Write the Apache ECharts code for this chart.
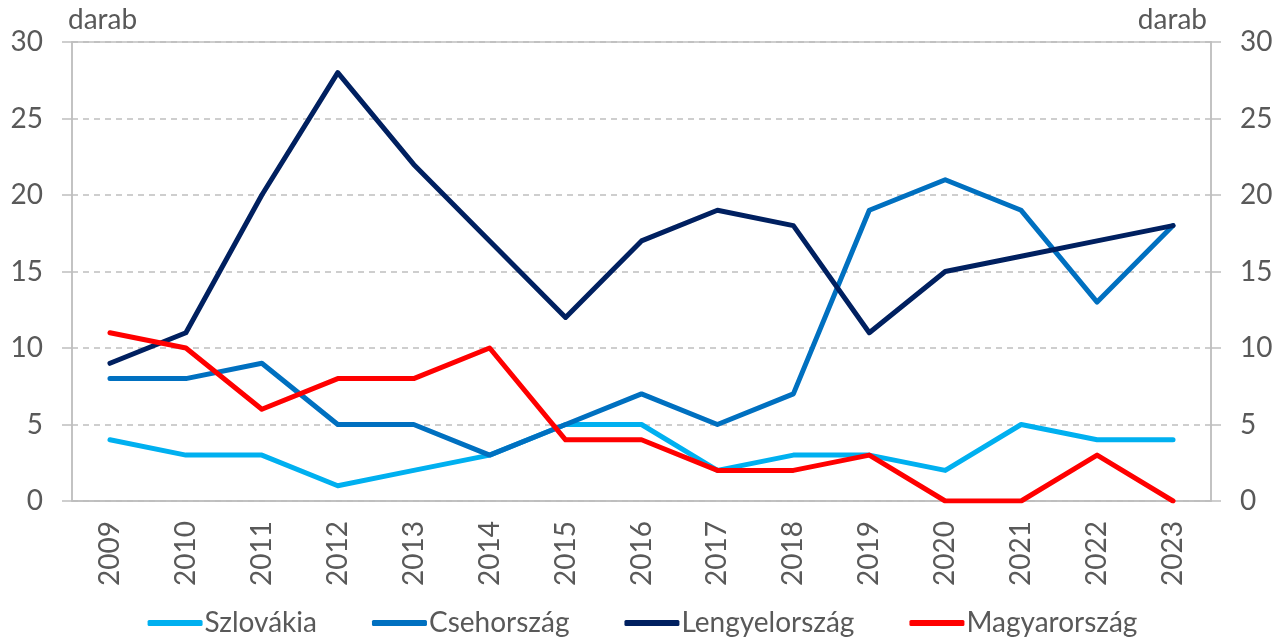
<!DOCTYPE html>
<html>
<head>
<meta charset="utf-8">
<script src="https://cdn.jsdelivr.net/npm/echarts@6/dist/echarts.min.js"></script>
<style>
  html, body { margin: 0; padding: 0; background: #fff; }
  #chart { width: 1285px; height: 639px; }
</style>
</head>
<body>
<div id="chart"></div>
<script>
// years on the category axis
const years = ['2009', '2010', '2011', '2012', '2013', '2014', '2015', '2016',
  '2017', '2018', '2019', '2020', '2021', '2022', '2023'];

// values per country (darab)
const szlovakia = [4, 3, 3, 1, 2, 3, 5, 5, 2, 3, 3, 2, 5, 4, 4];
const csehorszag = [8, 8, 9, 5, 5, 3, 5, 7, 5, 7, 19, 21, 19, 13, 18];
const lengyelorszag = [9, 11, 20, 28, 22, 17, 12, 17, 19, 18, 11, 15, 16, 17, 18];
const magyarorszag = [11, 10, 6, 8, 8, 10, 4, 4, 2, 2, 3, 0, 0, 3, 0];

const seriesNames = ['Szlovákia', 'Csehország', 'Lengyelország', 'Magyarország'];
const seriesColors = ['#00B0F0', '#0070C0', '#002060', '#FF0000'];
const seriesData = [szlovakia, csehorszag, lengyelorszag, magyarorszag];

const textColor = '#595959';
const axisGray = '#BFBFBF';
const font = 'Lato, "Noto Sans", sans-serif';
const fs = 28;

const chart = echarts.init(document.getElementById('chart'), null, { renderer: 'canvas' });

function yAxisCfg(pos) {
  return {
    type: 'value',
    position: pos,
    min: 0,
    max: 30,
    interval: 5,
    axisLine: { show: true, lineStyle: { color: axisGray, width: 1.5 } },
    axisTick: { show: true, length: 10, lineStyle: { color: axisGray, width: 1.5 } },
    axisLabel: { margin: 29, color: textColor, fontSize: fs, fontFamily: font },
    splitLine: pos === 'left'
      ? { show: true, lineStyle: { color: axisGray, type: [6, 5], width: 1.5 } }
      : { show: false }
  };
}

const option = {
  animation: false,
  grid: {
    left: 72, right: 74, top: 42, height: 459,
    show: true, borderColor: axisGray, borderWidth: 1.5
  },
  legend: {
    bottom: -3,
    left: 'center',
    itemWidth: 55,
    itemHeight: 6,
    itemGap: 55,
    icon: 'roundRect',
    textStyle: { color: textColor, fontSize: fs, fontFamily: font, padding: [0, 0, 0, -3] },
    data: seriesNames
  },
  xAxis: {
    type: 'category',
    data: years,
    boundaryGap: true,
    axisLine: { show: true, lineStyle: { color: axisGray, width: 1.5 } },
    axisTick: { show: false },
    axisLabel: { rotate: 90, margin: 20, color: textColor, fontSize: fs, fontFamily: font }
  },
  yAxis: [yAxisCfg('left'), yAxisCfg('right')],
  graphic: [
    { type: 'text', left: 68, top: 6,
      style: { text: 'darab', fill: textColor, fontSize: fs, fontFamily: font } },
    { type: 'text', right: 78, top: 6,
      style: { text: 'darab', fill: textColor, fontSize: fs, fontFamily: font } }
  ],
  series: seriesNames.map((name, i) => ({
    name: name,
    type: 'line',
    yAxisIndex: 0,
    data: seriesData[i],
    symbol: 'none',
    color: seriesColors[i],
    lineStyle: { width: 5, color: seriesColors[i], cap: 'round', join: 'round' }
  }))
};

chart.setOption(option);
</script>
</body>
</html>
